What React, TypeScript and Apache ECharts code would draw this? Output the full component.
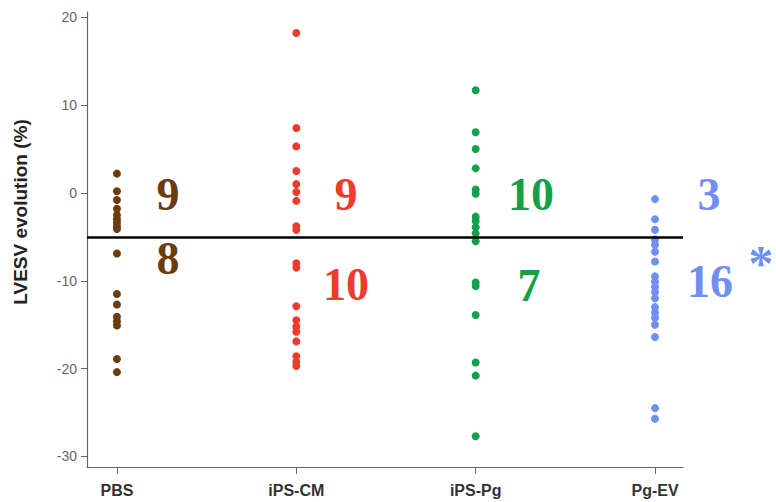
import React, { useEffect, useRef } from "react";
import * as echarts from "echarts";

const categories = ["PBS", "iPS-CM", "iPS-Pg", "Pg-EV"];
const yTicks = [-30, -20, -10, 0, 10, 20];
const threshold = -5;

const pbsValues = [2.2, 0.2, -0.8, -1.8, -2.5, -3.0, -3.4, -3.8, -4.1, -6.9, -11.5, -12.7, -14.1, -14.6, -15.1, -18.9, -20.4];
const ipsCmValues = [18.2, 7.4, 5.3, 2.5, 1.0, 0.1, -0.9, -3.8, -4.2, -8.0, -8.5, -12.9, -14.5, -15.2, -15.8, -16.9, -18.6, -19.2, -19.7];
const ipsPgValues = [11.7, 6.9, 5.0, 2.8, 0.4, -0.1, -2.7, -3.2, -3.9, -4.6, -5.5, -10.2, -10.6, -13.9, -19.3, -20.8, -27.7];
const pgEvValues = [-0.7, -3.0, -4.2, -5.3, -5.9, -6.7, -7.8, -9.5, -10.1, -10.7, -11.3, -12.0, -13.0, -13.6, -14.2, -15.0, -16.4, -24.5, -25.7];

const aboveCounts = ["9", "9", "10", "3"];
const belowCounts = ["8", "10", "7", "16"];
const significance = "*";

const seriesValues = [pbsValues, ipsCmValues, ipsPgValues, pgEvValues];
const colors = ["#6b3d0e", "#ee3b2c", "#12a04a", "#6f8ff2"];

export default function App() {
  const ref = useRef<HTMLDivElement>(null);
  useEffect(() => {
    if (!ref.current) return;
    const chart = echarts.init(ref.current, undefined, { renderer: "svg" });
    const aboveX = [168, 346, 531, 709];
    const aboveY = [194, 194, 194, 194];
    const belowX = [168, 346, 529, 710];
    const belowY = [258, 284, 285, 281];
    const numFont = "bold 46px 'Liberation Serif', 'Times New Roman', serif";
    const graphics: any[] = [];
    categories.forEach((_, i) => {
      graphics.push({
        type: "text",
        x: aboveX[i],
        y: aboveY[i],
        style: { text: aboveCounts[i], fill: colors[i], font: numFont, textAlign: "center", textVerticalAlign: "middle" },
      });
      graphics.push({
        type: "text",
        x: belowX[i],
        y: belowY[i],
        style: { text: belowCounts[i], fill: colors[i], font: numFont, textAlign: "center", textVerticalAlign: "middle" },
      });
    });
    graphics.push({
      type: "text",
      x: 761,
      y: 263,
      style: {
        text: significance,
        fill: colors[3],
        font: "bold 50px 'Liberation Serif', 'Times New Roman', serif",
        textAlign: "center",
        textVerticalAlign: "middle",
      },
    });
    graphics.push({
      type: "text",
      x: 20,
      y: 212,
      rotation: Math.PI / 2,
      style: {
        text: "LVESV evolution (%)",
        fill: "#222",
        font: "bold 19px 'Liberation Sans', Arial, sans-serif",
        textAlign: "center",
        textVerticalAlign: "middle",
      },
    });

    const series: any[] = seriesValues.map((vals, i) => ({
      type: "scatter",
      name: categories[i],
      data: vals.map((v) => [i, v]),
      symbol: "circle",
      symbolSize: 8,
      itemStyle: { color: colors[i], opacity: 1 },
      z: 3,
    }));
    series[0].markLine = {
      silent: true,
      symbol: "none",
      label: { show: false },
      lineStyle: { color: "#000", width: 2.5, type: "solid" },
      data: [{ yAxis: threshold }],
      z: 4,
    };

    chart.setOption({
      animation: false,
      backgroundColor: "#fff",
      grid: { left: 87, right: 93, top: 12, bottom: 35, containLabel: false },
      xAxis: {
        type: "value",
        min: -0.167,
        max: 3.156,
        splitLine: { show: false },
        axisLine: { show: true, onZero: false, lineStyle: { color: "#666", width: 1.2 } },
        axisTick: {
          show: true,
          customValues: [0, 1, 2, 3],
          length: 7,
          lineStyle: { color: "#666" },
        },
        axisLabel: {
          customValues: [0, 1, 2, 3],
          formatter: (v: number) => categories[Math.round(v)],
          color: "#333",
          fontWeight: "bold",
          fontSize: 16,
          fontFamily: "'Liberation Sans', Arial, sans-serif",
          margin: 15,
        },
      },
      yAxis: {
        type: "value",
        min: -31.2,
        max: 20.6,
        splitLine: { show: false },
        axisLine: { show: true, onZero: false, lineStyle: { color: "#666", width: 1.2 } },
        axisTick: {
          show: true,
          customValues: yTicks,
          length: 6,
          lineStyle: { color: "#666" },
        },
        axisLabel: {
          customValues: yTicks,
          color: "#666",
          fontSize: 14,
          fontFamily: "'Liberation Sans', Arial, sans-serif",
          margin: 10,
        },
      },
      graphic: graphics,
      series,
    });
    return () => chart.dispose();
  }, []);
  return <div ref={ref} style={{ width: 776, height: 502, position: "absolute", left: 0, top: 0 }} />;
}
